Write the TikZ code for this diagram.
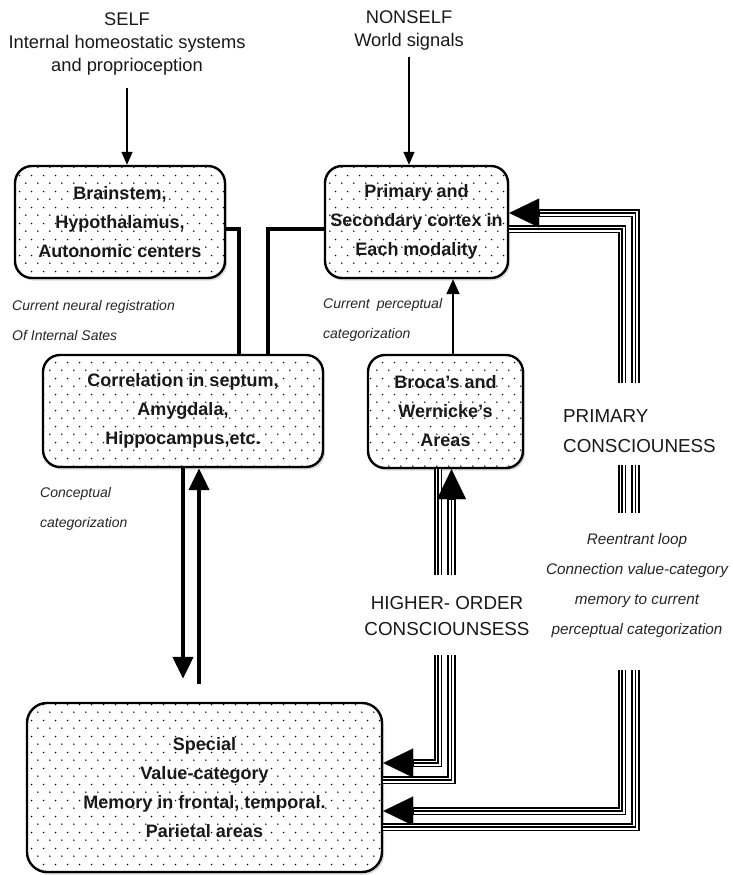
\documentclass[tikz,border=0pt]{standalone}
\usepackage{fontspec}
\setmainfont{Liberation Sans}
\usetikzlibrary{arrows.meta,patterns,shadows}
\pgfdeclarepatternformonly{sparsedots}{\pgfpointorigin}{\pgfpoint{11.7pt}{15.6pt}}{\pgfpoint{11.7pt}{15.6pt}}{%
  \pgfpathcircle{\pgfpoint{2.9pt}{3.9pt}}{0.85pt}%
  \pgfpathcircle{\pgfpoint{8.75pt}{11.7pt}}{0.85pt}%
  \pgfusepath{fill}}
\tikzset{
  box/.style={draw=black, line width=2.4pt, rounded corners=17pt,
    drop shadow={shadow xshift=2pt, shadow yshift=-2.5pt, opacity=0.3},
    preaction={fill=white}, pattern=sparsedots, pattern color=black,
    align=center, font=\bfseries\fontsize{18}{29}\selectfont, text=black!90, inner sep=0pt},
  plain/.style={font=\fontsize{18.3}{23}\selectfont, align=center, inner sep=0pt, text=black!90},
  capt/.style={font=\itshape\fontsize{14}{30}\selectfont, align=left, inner sep=0pt, anchor=west, text=black!85},
  thinarrow/.style={line width=1.5pt, -{Triangle[length=13pt,width=11pt]}},
  heavy/.style={line width=4.8pt},
  heavyarrow/.style={line width=4.5pt, -{Triangle[length=22pt,width=20pt]}},
  triple/.style={line width=8.5pt, postaction={draw=white, line width=5pt}, postaction={draw=black, line width=1.8pt}},
  triplearrow/.style={line width=8.5pt, -{Triangle[length=30pt,width=29pt,line width=0.1pt]},
    postaction={draw=white, line width=5pt, -, shorten >=30.5pt},
    postaction={draw=black, line width=1.8pt, -, shorten >=30.5pt}},
}
\begin{document}
\begin{tikzpicture}[x=1pt,y=-1pt]
\fill[white] (0,0) rectangle (733,875);
\useasboundingbox (0,0) rectangle (733,875);

% labels
\node[plain] (self) at (127,44) {SELF\\Internal homeostatic systems\\and proprioception};
\node[plain] (nonself) at (409,30.5) {NONSELF\\World signals};

% boxes
\node[box, minimum width=210pt, minimum height=112pt] (brain) at (120,222) {Brainstem,\\Hypothalamus,\\Autonomic centers};
\node[box, minimum width=183pt, minimum height=112pt] (prim) at (416.5,222) {Primary and\\Secondary cortex in\\Each modality};
\node[box, minimum width=280pt, minimum height=112pt] (corr) at (183,411) {Correlation in septum,\\Amygdala,\\Hippocampus,etc.};
\node[box, minimum width=155pt, minimum height=113pt] (broca) at (445.5,411.5) {Broca's and\\Wernicke's\\Areas};
\node[box, minimum width=355pt, minimum height=169pt, rounded corners=20pt] (mem) at (204.5,787.5) {Special\\Value-category\\Memory in frontal, temporal.\\Parietal areas};

% captions
\node[capt] (capA) at (12,320) {Current neural registration\\Of Internal Sates};
\node[capt] (capB) at (323,320) {Current\hspace{3pt} perceptual\\categorization};
\node[capt] (capC) at (40,509) {Conceptual\\categorization};
\node[plain, font=\fontsize{18.8}{30}\selectfont, align=left, anchor=west] (pc) at (563,431) {PRIMARY\\CONSCIOUNESS};
\node[plain, font=\fontsize{18.8}{26}\selectfont] (hoc) at (447,616) {HIGHER- ORDER\\CONSCIOUNSESS};
\node[font=\itshape\fontsize{15.3}{30}\selectfont, align=center, inner sep=0pt, text=black!85] (reent) at (637,586) {Reentrant loop\\Connection value-category\\memory to current\\perceptual categorization};

% coordinates for broken triple lines
\coordinate (hA) at (438,575);
\coordinate (hB) at (438,655);
\coordinate (hC) at (451.5,655);
\coordinate (hD) at (451.5,575);
\coordinate (pA) at (622,383);
\coordinate (pB) at (622,465);
\coordinate (pC) at (622,513);
\coordinate (pD) at (622,670);
\coordinate (qA) at (635.5,670);
\coordinate (qB) at (635.5,513);
\coordinate (qC) at (635.5,465);
\coordinate (qD) at (635.5,383);

% simple arrows
\draw[thinarrow, shorten <=13pt] (self.south) -- (self.south |- brain.north);
\draw[thinarrow, shorten <=7pt] (nonself.south) -- (nonself.south |- prim.north);
\draw[line width=2pt, -{Triangle[length=15pt,width=13pt]}] ([xshift=7.5pt]broca.north) -- ([xshift=7.5pt]broca.north |- prim.south);

% heavy connectors
\draw[heavy] ([yshift=-7pt]brain.east) -| ([xshift=56pt]corr.north);
\draw[heavy] ([yshift=-7pt]prim.west) -| ([xshift=85pt]corr.north);
\draw[heavyarrow, shorten >=23pt] (corr.south) -- (corr.south |- mem.north);
\draw[heavyarrow, shorten <=18pt] ([xshift=16pt]corr.south |- mem.north) -- ([xshift=16pt]corr.south);

% triple lines: higher-order loop
\draw[triple] ([xshift=-7.5pt]broca.south) -- (hA);
\draw[triplearrow] (hB) |- ([yshift=24.5pt]mem.east);
\draw[triple] ([yshift=7.5pt]mem.east) -| (hC);
\draw[triplearrow] (hD) -- ([xshift=6pt]broca.south);

% triple lines: primary loop
\draw[triple] ([yshift=-7pt]prim.east) -| (pA);
\draw[triple] (pB) -- (pC);
\draw[triplearrow] (pD) |- ([yshift=-23.5pt]mem.east);
\draw[triple] ([yshift=-39.5pt]mem.east) -| (qA);
\draw[triple] (qB) -- (qC);
\draw[triplearrow] (qD) |- ([yshift=9pt]prim.east);
\end{tikzpicture}
\end{document}
